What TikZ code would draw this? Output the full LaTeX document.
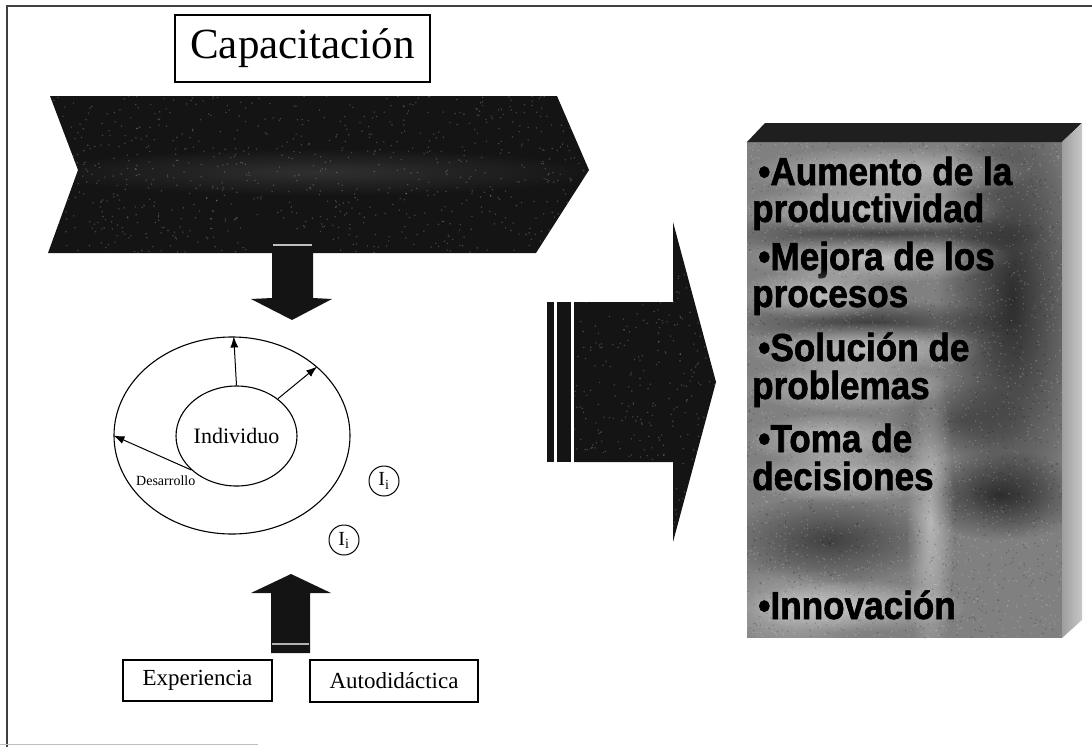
\documentclass[tikz,border=0pt]{standalone}
\usepackage{fontspec}
\setmainfont{Liberation Serif}
\newfontfamily\itemfont[FakeStretch=0.9,FakeBold=1.6]{Liberation Sans}
\usetikzlibrary{shapes.geometric,arrows.meta,calc,fadings}

\tikzfading[name=softblob, inner color=transparent!0, outer color=transparent!100]

% one line of the results list: pale glow, then black bold text
% #1 name, #2 x, #3 baseline y, #4 text, #5 approximate width
\newcommand\itemline[5]{%
  \fill[white, opacity=0.5, path fading=softblob] (#2+#5/2, #3-13) ellipse ({#5/2+16} and 26);
  \node[itemtext] (#1) at (#2,#3) {#4};}

\begin{document}
\begin{tikzpicture}[x=1pt,y=-1pt,
  plainbox/.style={draw=black, line width=1.3pt, fill=white, inner sep=0pt},
  ring/.style={ellipse, draw=black, line width=1.1pt, inner sep=0pt},
  outarrow/.style={-{Latex[length=11pt,width=8pt]}, line width=1pt},
  smallring/.style={circle, draw=black, line width=1pt, minimum size=30pt, inner sep=0pt,
    font=\fontsize{20}{20}\selectfont},
  solid block/.style={fill=black!92},
  itemtext/.style={anchor=base west, inner sep=0pt,
    font=\itemfont\bfseries\fontsize{39}{39}\selectfont},
  speck/.style={fill=white, opacity=0.22}]
\useasboundingbox (0,0) rectangle (1092,747);
\pgfmathsetseed{4242}

% page frame
\draw[line width=1.2pt, black!75] (7,747) -- (7,6) -- (1092,6);
\draw[line width=0.8pt, black!25] (0,744) -- (258,744);

% title
\node[plainbox, minimum width=255pt, minimum height=67pt,
      font=\fontsize{43}{45}\selectfont] (cap) at (302.5,48.5) {Capacitación};

% training chevron
\fill[solid block] (50,96) -- (557,96) -- (589,170) -- (536,253) -- (48,253) -- (78,170) -- cycle;
\begin{scope}
  \clip (50,96) -- (557,96) -- (589,170) -- (536,253) -- (48,253) -- (78,170) -- cycle;
  \fill[white, opacity=0.12, path fading=softblob] (320,172) ellipse (290 and 24);
  \foreach \i in {1,...,800}{\fill[speck] (48+rnd*542, 96+rnd*157) circle (0.8);}
\end{scope}

% arrow down into the individual
\fill[solid block] (272,238) -- (313,238) -- (313,298) -- (332,299) -- (292,320) -- (251,299) -- (272,298) -- cycle;
\draw[white!75!black, line width=1.2pt] (273,245) -- (312,245);

% development of the individual
\node[ring, minimum width=236pt, minimum height=197pt] (dev) at (232,435.5) {};
\node[ring, minimum width=109pt, minimum height=100pt,
      font=\fontsize{22}{24}\selectfont] (ind) at (236.5,436) {Individuo};
\draw[outarrow] (ind.90) -- (dev.89);
\draw[outarrow] (ind.42) -- (dev.39);
\draw[outarrow] (ind.217) -- (dev.180);
\node[anchor=west, inner sep=0pt, font=\fontsize{14}{15}\selectfont] (des) at (136,481) {Desarrollo};
\node[smallring] (i1) at (384,481) {I\textsubscript{i}};
\node[smallring] (i2) at (344,540) {I\textsubscript{i}};

% arrow up from experience and self-learning
\fill[solid block] (291,574) -- (331,593) -- (310,593) -- (310,653) -- (271,653) -- (271,593) -- (251,593) -- cycle;
\draw[white!70!black, line width=1.2pt] (272,644) -- (309,644);
\node[plainbox, line width=1.1pt, minimum width=149pt, minimum height=41pt,
      font=\fontsize{23}{25}\selectfont] (exp) at (197.5,680.5) {Experiencia};
\node[plainbox, line width=1.1pt, minimum width=168pt, minimum height=42pt,
      font=\fontsize{23}{25}\selectfont] (auto) at (394,681) {Autodidáctica};

% large arrow towards the results
\fill[solid block] (547,302) rectangle (554,462);
\fill[solid block] (557,302) rectangle (571,462);
\fill[solid block] (574,302) -- (673,302) -- (673,222) -- (716,382) -- (673,542) -- (673,462) -- (574,462) -- cycle;
\begin{scope}
  \clip (574,302) -- (673,302) -- (673,222) -- (716,382) -- (673,542) -- (673,462) -- (574,462) -- cycle;
  \foreach \i in {1,...,400}{\fill[speck] (574+rnd*142, 222+rnd*320) circle (0.8);}
\end{scope}

% results block: front face with a mottled texture
\fill[black!50] (747,142) rectangle (1062,638);
\begin{scope}
  \clip (747,142) rectangle (1062,638);
  \fill[black, opacity=0.65, path fading=softblob] (1012,300) ellipse (75 and 240);
  \fill[black, opacity=0.55, path fading=softblob] (880,234) ellipse (170 and 22);
  \fill[black, opacity=0.5, path fading=softblob] (870,322) ellipse (150 and 22);
  \fill[black, opacity=0.6, path fading=softblob] (1000,495) ellipse (90 and 45);
  \fill[black, opacity=0.5, path fading=softblob] (830,540) ellipse (110 and 45);
  \fill[black, opacity=0.35, path fading=softblob] (960,420) ellipse (70 and 40);
  \fill[white, opacity=0.45, path fading=softblob] (930,520) ellipse (24 and 160);
  \fill[white, opacity=0.35, path fading=softblob] (790,610) ellipse (80 and 45);
  \foreach \i in {1,...,2500}{\fill[white, opacity=0.2] (747+rnd*315, 142+rnd*496) circle (0.8);}
  \foreach \i in {1,...,1500}{\fill[black, opacity=0.22] (747+rnd*315, 142+rnd*496) circle (0.8);}
\end{scope}
% top and side faces
\fill[black!88] (747,142) -- (765,123) -- (1082,123) -- (1062,142) -- cycle;
\shade[left color=black!38, right color=black!22] (1062,142) -- (1082,123) -- (1082,620) -- (1062,638) -- cycle;

\itemline{r1}{758}{185}{•Aumento de la}{263}
\itemline{r2}{752}{222}{productividad}{239}
\itemline{r3}{758}{270}{•Mejora de los}{240}
\itemline{r4}{752}{307}{procesos}{128}
\itemline{r5}{758}{361}{•Solución de}{210}
\itemline{r6}{752}{399}{problemas}{183}
\itemline{r7}{758}{452}{•Toma de}{143}
\itemline{r8}{752}{490}{decisiones}{186}
\itemline{r9}{758}{619}{•Innovación}{196}
\end{tikzpicture}
\end{document}
